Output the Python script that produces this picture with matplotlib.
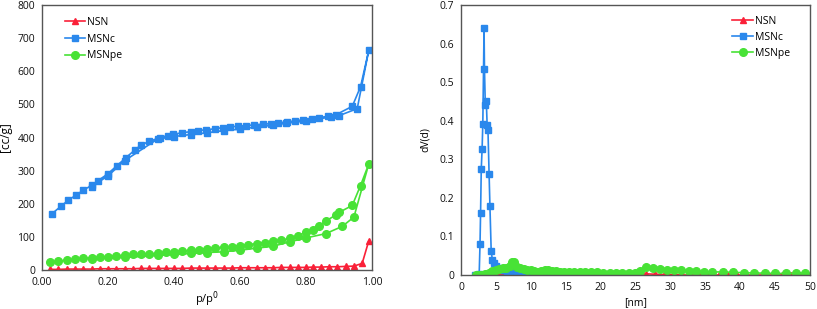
import matplotlib.pyplot as plt
from matplotlib.ticker import FuncFormatter

# isotherm data (p/p0 vs adsorbed volume) - adsorption then desorption branch
msnc_p = [0.029, 0.059, 0.08, 0.103, 0.125, 0.153, 0.17, 0.199, 0.226, 0.253, 0.281, 0.3,
          0.324, 0.358, 0.381, 0.398, 0.423, 0.452, 0.472, 0.497, 0.524, 0.547, 0.57,
          0.593, 0.618, 0.642, 0.67, 0.693, 0.716, 0.741, 0.766, 0.792, 0.817, 0.84,
          0.866, 0.891, 0.94, 0.965, 0.99,
          0.955, 0.9, 0.875, 0.8, 0.74, 0.7, 0.65, 0.6, 0.55, 0.5, 0.45, 0.4, 0.35,
          0.25, 0.2, 0.15]
msnc_v = [169, 194, 211, 226, 241, 257, 270, 290, 314, 338, 362, 377,
          388, 400, 406, 410, 414, 418, 420, 424, 426, 430, 432,
          434, 436, 438, 440, 442, 444, 447, 450, 454, 457, 460,
          464, 469, 494, 553, 663,
          487, 466, 462, 450, 443, 437, 432, 425, 421, 414, 409, 403, 395,
          330, 284, 252]

msnpe_p = [0.025, 0.05, 0.075, 0.1, 0.125, 0.15, 0.175, 0.2, 0.225, 0.25, 0.275, 0.3,
           0.325, 0.35, 0.375, 0.4, 0.425, 0.45, 0.475, 0.5, 0.525, 0.55, 0.575, 0.6,
           0.625, 0.65, 0.675, 0.7, 0.725, 0.75, 0.775, 0.8, 0.82, 0.84, 0.86, 0.89,
           0.9, 0.94, 0.965, 0.99,
           0.945, 0.91, 0.86, 0.8, 0.75, 0.7, 0.65, 0.6, 0.55, 0.5, 0.45, 0.4, 0.35,
           0.25, 0.15]
msnpe_v = [24, 27, 30, 32, 35, 37, 39, 40, 43, 45, 47, 48,
           49, 51, 54, 56, 58, 60, 62, 65, 67, 69, 71, 74,
           77, 80, 83, 87, 90, 96, 104, 114, 122, 133, 148, 166,
           174, 195, 255, 320,
           160, 132, 110, 97, 85, 72, 66, 60, 55, 53, 50, 47, 44,
           38, 34]

nsn_p = [0.025, 0.05, 0.075, 0.1, 0.125, 0.15, 0.175, 0.2, 0.225, 0.25, 0.275, 0.3,
         0.325, 0.35, 0.375, 0.4, 0.425, 0.45, 0.475, 0.5, 0.525, 0.55, 0.575, 0.6,
         0.625, 0.65, 0.675, 0.7, 0.725, 0.75, 0.775, 0.8, 0.82, 0.845, 0.87, 0.895,
         0.92, 0.945, 0.97, 0.99]
nsn_v = [2, 2, 3, 3, 3, 3, 4, 4, 4, 4, 4, 5,
         5, 5, 5, 5, 5, 6, 6, 6, 6, 6, 6, 7,
         7, 7, 7, 7, 8, 8, 8, 8, 9, 9, 10, 10,
         11, 12, 20, 88]

# pore size distribution
msnc_d = [2.0, 2.4, 2.6, 2.72, 2.8, 2.9, 3.02, 3.12, 3.3, 3.36, 3.48, 3.62, 3.74,
          3.86, 4.02, 4.14, 4.32, 4.48, 4.7, 4.95, 5.3, 5.7, 6.1, 6.6, 7.0, 7.5,
          8.0, 8.6, 9.2, 9.9, 10.6, 11.3, 12.0, 12.6, 13.3, 14.1, 15.0, 16.0, 17.0,
          18.0, 19.0]
msnc_dv = [0.0, 0.0, 0.002, 0.08, 0.16, 0.276, 0.327, 0.391, 0.64, 0.533, 0.44, 0.45,
           0.39, 0.376, 0.262, 0.179, 0.063, 0.04, 0.03, 0.024, 0.018, 0.014, 0.012,
           0.01, 0.011, 0.013, 0.009, 0.006, 0.004, 0.003, 0.002, 0.002, 0.003,
           0.004, 0.003, 0.002, 0.001, 0.001, 0.001, 0.0, 0.0]

msnpe_d = [2.2, 2.6, 3.0, 3.5, 4.0, 4.5, 5.0, 5.5, 6.0, 6.5, 7.0, 7.3, 7.6, 8.0,
           8.5, 9.0, 9.5, 10.0, 10.5, 11.0, 11.5, 12.0, 12.5, 13.0, 13.6, 14.2,
           14.8, 15.5, 16.2, 17.0, 17.8, 18.6, 19.5, 20.4, 21.3, 22.2, 23.1, 24.0,
           24.9, 25.7, 26.5, 27.5, 28.5, 29.5, 30.5, 31.5, 32.6, 33.7, 34.8, 36.0,
           37.5, 39.0, 40.5, 42.0, 43.5, 45.0, 46.5, 48.0, 49.3]
msnpe_dv = [0.0, 0.0, 0.001, 0.003, 0.006, 0.01, 0.013, 0.015, 0.017, 0.018, 0.024,
            0.035, 0.033, 0.022, 0.018, 0.015, 0.013, 0.012, 0.01, 0.009, 0.01,
            0.012, 0.013, 0.011, 0.01, 0.009, 0.009, 0.008, 0.008, 0.008, 0.007,
            0.007, 0.007, 0.006, 0.006, 0.005, 0.005, 0.005, 0.005, 0.01, 0.02,
            0.017, 0.015, 0.014, 0.013, 0.012, 0.011, 0.01, 0.009, 0.008, 0.008,
            0.007, 0.006, 0.005, 0.005, 0.004, 0.004, 0.004, 0.004]

nsn_d = [1.8, 2.3, 2.8, 3.4, 4.0, 4.6, 5.2, 5.8, 6.4, 7.0, 7.6, 8.2, 9.0, 10.0,
         11.0, 12.0, 13.0, 14.0, 15.0, 16.0, 17.0, 18.0, 19.0, 20.0, 21.3, 22.6,
         23.9, 25.2, 26.5, 27.8, 29.1, 30.4, 31.7, 33.0, 34.3, 35.6, 36.9, 38.2,
         39.5, 40.8, 42.1, 43.4, 44.7, 46.0, 47.3, 48.6, 49.6]
nsn_dv = [0.0, 0.001, 0.001, 0.001, 0.002, 0.003, 0.004, 0.005, 0.005, 0.004,
          0.003, 0.002, 0.001, 0.001, 0.001, 0.0, 0.0, 0.0, 0.0, 0.0, 0.0, 0.0,
          0.0, 0.0, 0.0, 0.001, 0.001, 0.002, 0.003, 0.002, 0.001, 0.001, 0.0,
          0.0, 0.0, 0.0, 0.0, 0.0, 0.0, 0.0, 0.0, 0.0, 0.0, 0.0, 0.0, 0.0, 0.0]

red = '#FA2038'
blue = '#2A88EC'
green = '#48E236'

plt.rcParams['font.family'] = ['Open Sans', 'DejaVu Sans']
fig = plt.figure(figsize=(8.17, 3.09), dpi=100)
ax1 = fig.add_axes([0.0514, 0.126, 0.404, 0.858])
ax2 = fig.add_axes([0.5643, 0.110, 0.4271, 0.874])

ax1.plot(nsn_p, nsn_v, color=red, marker='^', ms=5, lw=1.2, label='NSN')
ax1.plot(msnc_p, msnc_v, color=blue, marker='s', ms=4.5, lw=1.2, label='MSNc')
ax1.plot(msnpe_p, msnpe_v, color=green, marker='o', ms=5.5, lw=1.2, label='MSNpe')
ax1.set_xlim(0, 1)
ax1.set_ylim(0, 800)
ax1.set_xticks([0, 0.2, 0.4, 0.6, 0.8, 1.0])
ax1.xaxis.set_major_formatter(FuncFormatter(lambda v, p: '%.2f' % v))
ax1.set_yticks(range(0, 801, 100))
ax1.set_xlabel('p/p$^0$', fontsize=8, labelpad=1)
ax1.set_ylabel('[cc/g]', fontsize=8.5, labelpad=4)
ax1.legend(loc='upper left', frameon=False, fontsize=7.5, handlelength=2.0,
           handletextpad=0.2, labelspacing=0.55, bbox_to_anchor=(0.04, 0.99))

ax2.plot(nsn_d, nsn_dv, color=red, marker='^', ms=4.5, lw=1.2, label='NSN')
ax2.plot(msnc_d, msnc_dv, color=blue, marker='s', ms=4.5, lw=1.2, label='MSNc')
ax2.plot(msnpe_d, msnpe_dv, color=green, marker='o', ms=5.5, lw=1.2, label='MSNpe')
ax2.set_xlim(0, 50)
ax2.set_ylim(0, 0.7)
ax2.set_xticks(range(0, 51, 5))
ax2.set_yticks([0, 0.1, 0.2, 0.3, 0.4, 0.5, 0.6, 0.7])
ax2.yaxis.set_major_formatter(FuncFormatter(lambda v, p: '0' if v == 0 else '%.1f' % v))
ax2.set_xlabel('[nm]', fontsize=7.5, labelpad=3)
ax2.set_ylabel('dV(d)', fontsize=7.5, labelpad=6)
ax2.legend(loc='upper right', frameon=False, fontsize=7.5, handlelength=2.0,
           handletextpad=0.2, labelspacing=0.5, bbox_to_anchor=(0.97, 0.995))

for ax in (ax1, ax2):
    ax.tick_params(length=0, labelsize=7.5, pad=5, labelcolor='#111111')
    for s in ax.spines.values():
        s.set_color('#555555')
        s.set_linewidth(1.0)

fig.savefig('out.png', dpi=100)
